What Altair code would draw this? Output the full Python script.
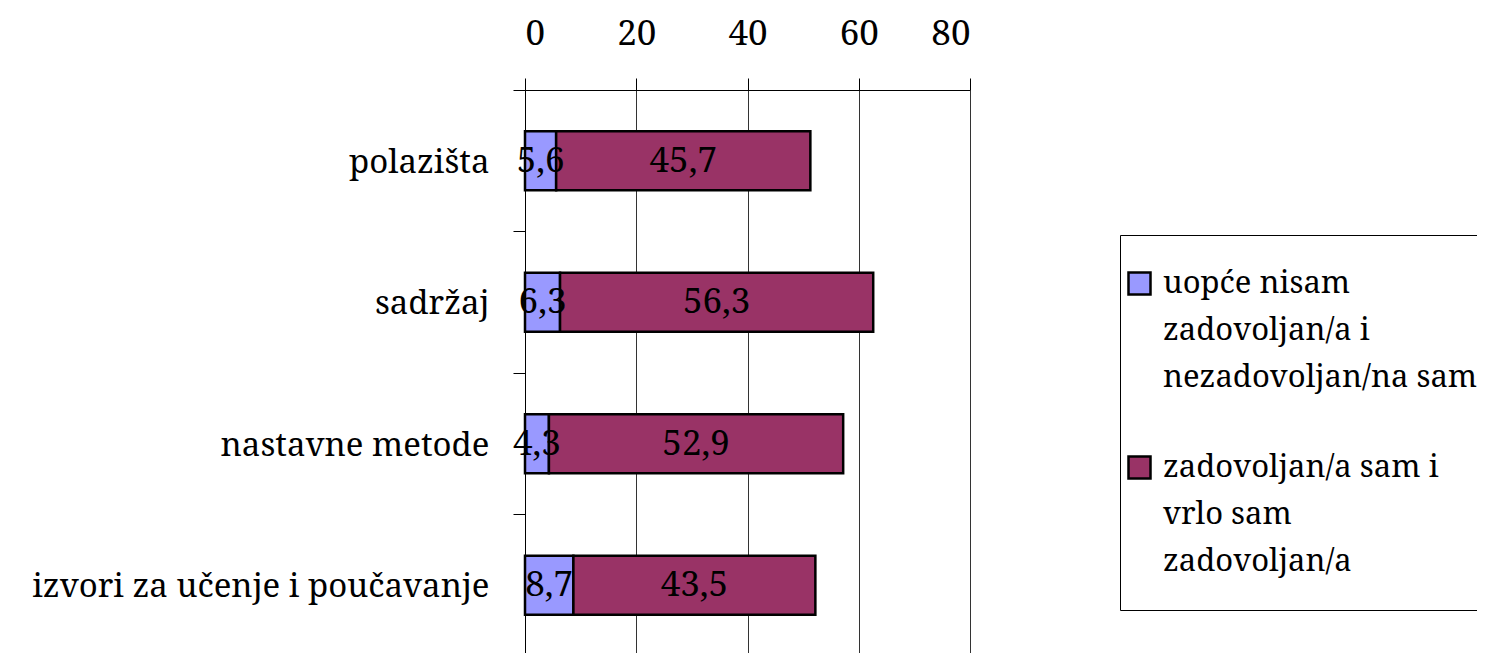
import altair as alt
import pandas as pd

categories = ["polazišta", "sadržaj", "nastavne metode", "izvori za učenje i poučavanje"]
series = [
    "uopće nisam zadovoljan/a i nezadovoljan/na sam",
    "zadovoljan/a sam i vrlo sam zadovoljan/a",
]
legend_lines = [
    ["uopće nisam", "zadovoljan/a i", "nezadovoljan/na sam"],
    ["zadovoljan/a sam i", "vrlo sam", "zadovoljan/a"],
]
values_low = [5.6, 6.3, 4.3, 8.7]
values_high = [45.7, 56.3, 52.9, 43.5]
x_ticks = [0, 20, 40, 60, 80]
colors = ["#9999FF", "#993366"]

rows = []
for i, c in enumerate(categories):
    rows.append({"cat": c, "series": series[0], "order": 0, "value": values_low[i]})
    rows.append({"cat": c, "series": series[1], "order": 1, "value": values_high[i]})
df = pd.DataFrame(rows)

FONT = "Noto Serif"

label_expr = f"datum.label == '{series[0]}' ? {legend_lines[0]!r} : {legend_lines[1]!r}"

base = alt.Chart(df).transform_stack(
    stack="value", groupby=["cat"], as_=["x0", "x1"], sort=[alt.SortField("order")]
).transform_calculate(
    mid="(datum.x0 + datum.x1) / 2",
    lbl="replace(format(datum.value, '.1f'), '.', ',')",
)

y_enc = alt.Y(
    "cat:N",
    sort=categories,
    title=None,
    scale=alt.Scale(paddingInner=0.583, paddingOuter=0.2915),
    axis=alt.Axis(
        bandPosition=0,
        tickOffset=-41.25,
        labelOffset=42.5,
        tickSize=12,
        tickColor="#000",
        domainColor="#000",
        labelFont=FONT,
        labelFontSize=33,
        labelColor="#000",
        labelPadding=24,
        labelLimit=600,
    ),
)

bars = base.mark_bar(stroke="#000", strokeWidth=2.5, opacity=1).encode(
    x=alt.X(
        "x0:Q",
        title=None,
        scale=alt.Scale(domain=[0, 80], nice=False),
        axis=alt.Axis(
            orient="top",
            values=x_ticks,
            tickSize=12,
            tickColor="#000",
            domainColor="#000",
            gridColor="#333",
            gridOpacity=1,
            labelFont=FONT,
            labelFontSize=35,
            labelColor="#000",
            labelPadding=27,
        ),
    ),
    x2="x1:Q",
    y=y_enc,
    color=alt.Color(
        "series:N",
        sort=series,
        scale=alt.Scale(domain=series, range=colors),
        legend=alt.Legend(
            title=None,
            orient="none",
            legendX=595,
            legendY=145,
            padding=33,
            strokeColor="#000",
            fillColor="#fff",
            symbolType="square",
            symbolSize=484,
            symbolStrokeColor="#000",
            symbolStrokeWidth=2.5,
            symbolOpacity=1,
            symbolOffset=-29,
            labelFont=FONT,
            labelFontSize=31,
            labelColor="#000",
            labelBaseline="middle",
            labelLimit=600,
            labelExpr=label_expr,
            labelOffset=8,
            rowPadding=58,
        ),
    ),
)

texts = base.mark_text(font=FONT, fontSize=35, color="#000").encode(
    x="mid:Q",
    y=alt.Y("cat:N", sort=categories),
    text="lbl:N",
)

chart = (
    alt.layer(bars, texts)
    .properties(
        width=445,
        height=566,
        autosize=alt.AutoSizeParams(type="none"),
        padding={"left": 517, "top": 82, "right": 507, "bottom": 5},
    )
    .configure_view(stroke=None)
    .configure(style={"guide-label": {"lineHeight": 47}})
)

chart.save("out.html", embed_options={"renderer": "svg", "actions": False})
